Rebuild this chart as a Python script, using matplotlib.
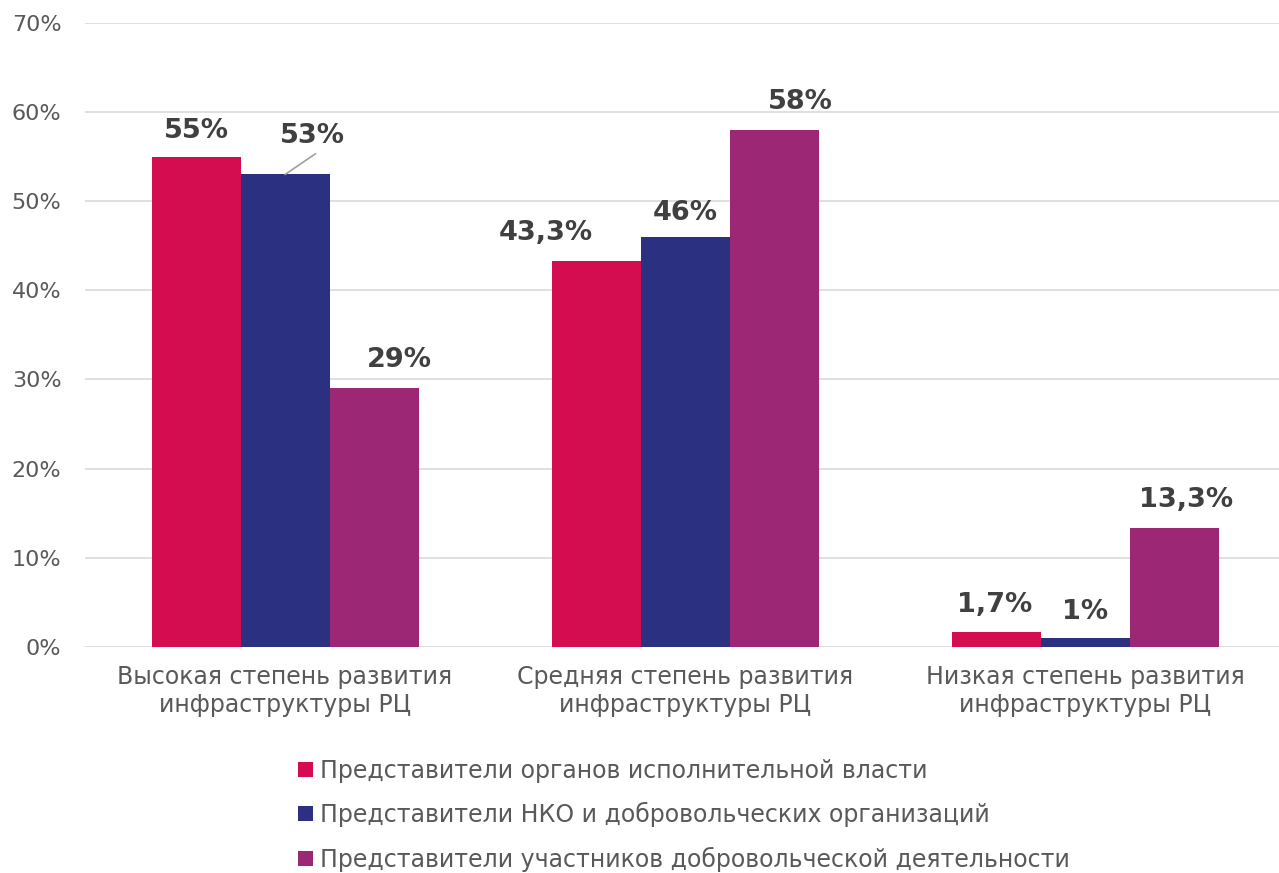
import matplotlib
matplotlib.use('Agg')
import matplotlib.pyplot as plt
import numpy as np

plt.rcParams['font.family'] = ['DejaVu Sans']

# data
categories = ['Высокая степень развития\nинфраструктуры РЦ',
              'Средняя степень развития\nинфраструктуры РЦ',
              'Низкая степень развития\nинфраструктуры РЦ']
series_names = ['Представители органов исполнительной власти',
                'Представители НКО и добровольческих организаций',
                'Представители участников добровольческой деятельности']
gov = [55, 43.3, 1.7]
nko = [53, 46, 1]
part = [29, 58, 13.3]
gov_labels = ['55%', '43,3%', '1,7%']
nko_labels = ['53%', '46%', '1%']
part_labels = ['29%', '58%', '13,3%']

colors = ['#D40D50', '#2B3080', '#9B2775']

fig = plt.figure(figsize=(12.79, 8.73), dpi=100)
ax = fig.add_axes([0.0665, 0.259, 0.9335, 0.7147])

x = np.arange(len(categories))
w = 0.2225
all_vals = [gov, nko, part]
all_labels = [gov_labels, nko_labels, part_labels]
# label offsets in points (dx, dy) per series/category
offsets = [
    [(0, 9), (-36, 11), (-1, 10)],
    [(20, 18), (0, 8), (0, 9)],
    [(18, 11), (19, 11), (9, 11)],
]

for i, (vals, labs) in enumerate(zip(all_vals, all_labels)):
    xs = x + (i - 1) * w
    ax.bar(xs, vals, width=w, color=colors[i], label=series_names[i], zorder=3)
    for j in range(len(xs)):
        dx, dy = offsets[i][j]
        ax.annotate(labs[j], (xs[j], vals[j]), xytext=(dx, dy),
                    textcoords='offset points', ha='center', va='bottom',
                    fontsize=19.5, fontweight='bold', color='#404040', zorder=4)

# leader line for the 53% label
ax.annotate('', (x[0], nko[0]), xytext=(22, 15), textcoords='offset points',
            arrowprops=dict(arrowstyle='-', color='#a0a0a0', lw=1.2,
                            shrinkA=0, shrinkB=0))

ax.set_ylim(0, 70)
ax.set_xlim(-0.5, 2.485)
ax.set_yticks(range(0, 71, 10))
ax.set_yticklabels([f'{v}%' for v in range(0, 71, 10)])
ax.set_xticks(x)
ax.set_xticklabels(categories, linespacing=1.2)
ax.tick_params(axis='x', length=0, labelsize=17, colors='#595959', pad=13)
ax.tick_params(axis='y', length=0, labelsize=16, colors='#595959', pad=17)
ax.grid(axis='y', color='#d9d9d9', lw=1.2, zorder=0)
for s in ax.spines.values():
    s.set_visible(False)

fig.legend(loc='upper left', bbox_to_anchor=(0.233, 0.131), frameon=False,
           fontsize=17, labelcolor='#595959', handlelength=0.62, handleheight=0.62,
           handletextpad=0.3, labelspacing=0.82, borderaxespad=0, borderpad=0)

fig.savefig('out.png', dpi=100)
